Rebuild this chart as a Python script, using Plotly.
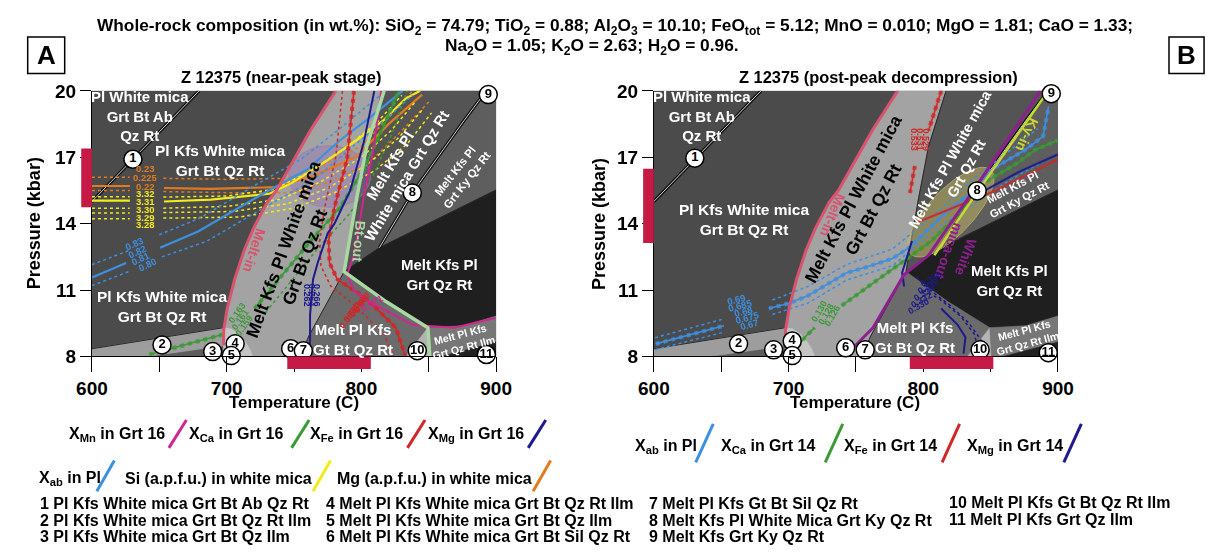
import numpy as np
import plotly.graph_objects as go

W, H = 1222, 559
AR = "Arial"

# ---------------- axes ----------------
X_RANGE = [600, 900]
Y_RANGE = [8, 20]
X_TICKS = [600, 650, 700, 750, 800, 850, 900]
X_TICKTEXT = ["600", "", "700", "", "800", "", "900"]
Y_TICKS = [8, 11, 14, 17, 20]
Y_TICKTEXT = ["8", "11", "14", "17", "20"]

# ---------------- pseudosection (T in C, P in kbar) ----------------
MELT_IN_T = [697.6, 697.8, 700.5, 706.0, 713.0, 720.0, 730.0, 737.0, 750.0, 762.0, 781.0]
MELT_IN_P = [8.5, 9.2, 10.2, 11.5, 12.8, 13.8, 14.95, 15.5, 16.9, 18.2, 20.0]
BT_OUT_T = [816.9, 803.9, 796.6, 790.8, 787.2, 818.3, 849.4, 850.8]
BT_OUT_P = [20.0, 17.48, 15.17, 13.22, 11.83, 10.48, 9.30, 8.0]
R1_T = [600.0, 679.5]
R1_P = [15.0, 20.0]
R89_T = [813.3, 837.8, 876.1, 890.6]
R89_P = [12.91, 15.39, 18.65, 19.83]

LIGHT_T = MELT_IN_T + [816.9, 803.9, 796.6, 790.8, 787.2, 760.5, 755.4, 697.6]
LIGHT_P = MELT_IN_P + [20.0, 17.48, 15.17, 13.22, 11.83, 8.87, 8.0, 8.0]
MKPW_T = [816.9, 892.0, 890.6, 876.1, 837.8, 813.3, 787.2, 790.8, 796.6, 803.9]
MKPW_P = [20.0, 20.0, 19.83, 18.65, 15.39, 12.91, 11.83, 13.22, 15.17, 17.48]
KY_T = [892.0, 900.0, 900.0, 813.3, 837.8, 876.1, 890.6]
KY_P = [20.0, 20.0, 15.52, 12.91, 15.39, 18.65, 19.83]
BLACK_T = [787.2, 813.3, 900.0, 900.0, 876.1, 849.4, 818.3]
BLACK_P = [11.83, 12.91, 15.52, 9.83, 9.39, 9.30, 10.48]
MPKG_T = [755.4, 760.5, 787.2, 818.3, 849.4, 832.8]
MPKG_P = [8.0, 8.87, 11.83, 10.48, 9.30, 8.0]
F10_T = [832.8, 849.4, 850.8]
F10_P = [8.0, 9.30, 8.0]
ILM_T = [850.8, 849.4, 876.1, 900.0, 900.0]
ILM_P = [8.0, 9.30, 9.39, 9.83, 8.0]
F11_T = [859.5, 900.0, 900.0]
F11_P = [8.0, 8.65, 8.0]
F2_T = [600.0, 600.0, 697.6, 697.6, 645.0]
F2_P = [8.0, 8.35, 9.30, 8.45, 8.0]
F3_T = [645.0, 697.6, 697.6]
F3_P = [8.0, 8.45, 8.0]
F4_T = [697.6, 703.0, 709.0, 714.0, 717.5, 719.3, 697.6]
F4_P = [9.30, 9.25, 9.0, 8.65, 8.3, 8.0, 8.0]

CIRC_LABELS = [str(i) for i in range(1, 12)]
CIRC_A_T = [630.4, 652.0, 689.6, 706.3, 703.4, 747.5, 756.9, 837.8, 894.2, 841.5, 892.8]
CIRC_A_P = [16.91, 8.52, 8.22, 8.57, 8.04, 8.35, 8.26, 15.39, 19.83, 8.26, 8.09]
CIRC_B_T = [630.4, 662.9, 688.9, 702.7, 702.7, 742.4, 756.9, 840.0, 895.0, 842.2, 892.8]
CIRC_B_P = [16.96, 8.57, 8.30, 8.70, 8.04, 8.39, 8.30, 15.48, 19.87, 8.30, 8.17]

# peak estimates (red bars)
PEAK_A_T = [745, 807]
PEAK_A_P = [14.74, 17.39]
PEAK_B_T = [790, 852]
PEAK_B_P = [13.13, 16.48]

# ---------------- isopleths panel A ----------------
ORG_A_T = [600, 628.2, None, 653.5, 688.2, 736.6, 765.5, 796.6, 820.5, 845.1]
ORG_A_P = [15.70, 15.70, None, 15.61, 15.57, 15.65, 16.17, 17.04, 18.52, 19.83]
ORG_A_D1_T = [600, 628, None, 653, 700, 745, 770, 800, 822, 838]
ORG_A_D1_P = [16.1, 16.1, None, 16.05, 16.0, 16.05, 16.6, 17.5, 18.9, 20.0]
ORG_A_D2_T = [600, 628, None, 653, 700, 745, 775, 805, 830, 850]
ORG_A_D2_P = [15.5, 15.5, None, 15.45, 15.4, 15.4, 15.85, 16.7, 18.2, 19.5]

YEL_A_T = [600, 628.2, None, 653.5, 688.2, 731.6, 748.2, 772.8, 796.6, 816.1, 832.8, 843.6]
YEL_A_P = [15.04, 15.04, None, 15.0, 15.09, 15.35, 15.83, 16.78, 17.78, 18.65, 19.65, 20.0]
YEL_A_D1_T = [600, 628, None, 653, 700, 735, 760, 790, 812, 830]
YEL_A_D1_P = [15.22, 15.22, None, 15.2, 15.25, 15.55, 16.3, 17.5, 18.6, 19.8]
YEL_A_D2_T = [600, 628, None, 653, 700, 740, 770, 800, 822, 840]
YEL_A_D2_P = [14.7, 14.7, None, 14.7, 14.78, 15.1, 15.9, 17.0, 18.2, 19.5]
YEL_A_D3_T = [600, 628, None, 653, 705, 745, 775, 805, 828, 846]
YEL_A_D3_P = [14.48, 14.48, None, 14.5, 14.55, 14.9, 15.6, 16.7, 17.9, 19.2]
YEL_A_D4_T = [600, 628, None, 653, 710, 750, 780, 810, 834, 852]
YEL_A_D4_P = [14.22, 14.22, None, 14.25, 14.3, 14.7, 15.4, 16.4, 17.6, 19.0]
YEL_A_LABELS = ["3.32", "3.31", "3.30", "3.29", "3.28"]
YEL_A_LAB_P = [15.35, 15.0, 14.65, 14.3, 13.96]
ORG_A_LABELS = ["0.23", "0.225", "0.22"]
ORG_A_LAB_P = [16.48, 16.09, 15.70]

BLU_A_T = [600, 625.3, None, 650.6, 678.8, 724.3, 760.5, 784.3, 806.0, 830.6]
BLU_A_P = [11.57, 12.22, None, 12.91, 13.65, 15.26, 16.48, 17.78, 18.78, 20.0]
BLU_A_D1_T = [600, 628, None, 650, 680, 720, 755, 780, 800, 818]
BLU_A_D1_P = [12.15, 12.8, None, 13.5, 14.25, 15.7, 16.9, 18.1, 19.1, 20.0]
BLU_A_D2_T = [600, 628, None, 652, 685, 730, 765, 790, 812, 838]
BLU_A_D2_P = [11.2, 11.85, None, 12.5, 13.2, 14.8, 16.0, 17.3, 18.4, 19.8]
BLU_A_LABELS = ["0.83", "0.82", "0.81", "0.80"]
BLU_A_LAB_T = [631.8, 634.0, 636.1, 641.2]
BLU_A_LAB_P = [13.09, 12.74, 12.43, 12.17]

GRN_A_T = [642.6, 697.6, None, 720.7, 760.5, 784.3, 801.7, 816.1, 827.7]
GRN_A_P = [8.09, 9.0, None, 10.17, 13.09, 14.74, 16.48, 18.35, 20.0]
GRN_A_D_T = [729, 768, 792, 809, 823, 834]
GRN_A_D_P = [10.0, 12.9, 14.5, 16.2, 18.1, 20.0]
GRN_A_LABELS = ["0.163", "0.161", "0.159"]
GRN_A_LAB_T = [707.7, 709.9, 713.5]
GRN_A_LAB_P = [9.96, 9.65, 9.40]

RED_A_T = [794.5, 789.4, 780.0, 775.7, 776.4, 782.2, 803.9, 825.5, 832.8]
RED_A_P = [20.0, 16.91, 14.74, 13.22, 12.22, 11.48, 10.61, 9.30, 8.0]
RED_A_D_T = [786, 781, 773, 769, 770, 777, 797, 817, 824]
RED_A_D_P = [20.0, 17.0, 14.8, 13.2, 12.1, 11.2, 10.2, 9.0, 8.0]
RED_A_LABELS = ["0.567", "0.566", "0.564", "0.562"]
RED_A_LAB_T = [801.0, 797.0, 793.5, 790.0]
RED_A_LAB_P = [10.45, 10.25, 10.0, 9.75]

NAV_A_T = [809.6, 801.7, 791.6, 780.0, 775.0, 767.7, 764.1, 761.9, 761.9, 760.5]
NAV_A_P = [20.0, 17.65, 15.48, 14.0, 13.57, 12.26, 11.48, 9.87, 8.74, 8.0]
NAV_A_LABELS = ["0.266", "0.264", "0.262"]
NAV_A_LAB_T = [767.5, 764.0, 760.0]
NAV_A_LAB_P = [10.75, 10.75, 10.75]

MAG_A_T = [814.7, 808.9, 801.7, 794.5, 789.4, 794.5, 806.0, 837.8, 868.9, 899.3]
MAG_A_P = [20.0, 17.35, 15.17, 12.57, 11.7, 10.96, 10.48, 9.43, 9.30, 9.74]

# ---------------- isopleths panel B ----------------
BLU_B_T = [601.4, 652.0, None, 685.3, 699.8, 714.2, 728.7, 743.1, 762.7, 777.1, 789.4, 815.4, 837.1, 851.6, 876.1, 889.0, 893.0]
BLU_B_P = [8.57, 9.39, None, 10.17, 10.39, 10.74, 11.26, 11.78, 12.13, 12.43, 12.91, 14.43, 15.48, 16.48, 17.35, 17.95, 19.3]
BLU_B_D1_T = [601, 652, None, 688, 714, 743, 777, 810, 835, 860, 885]
BLU_B_D1_P = [8.85, 9.7, None, 10.55, 11.15, 12.15, 12.85, 14.5, 15.9, 17.1, 18.3]
BLU_B_D2_T = [601, 652, None, 688, 714, 743, 777, 815, 840, 865, 895]
BLU_B_D2_P = [8.3, 9.1, None, 9.9, 10.4, 11.45, 12.1, 14.0, 15.0, 16.0, 17.0]
BLU_B_LABELS = ["0.69", "0.685", "0.68", "0.675", "0.67"]
BLU_B_LAB_T = [661.4, 664.3, 666.5, 669.4, 670.8]
BLU_B_LAB_P = [10.57, 10.30, 10.04, 9.78, 9.43]

GRN_B_T = [690.4, 704.8, 712.1, 719.3, None, 739.5, 769.9, 784.3, 806.0, 824.1, 844.3, 868.9, 883.4, 900.0]
GRN_B_P = [8.13, 8.30, 8.87, 9.30, None, 10.30, 11.61, 12.26, 13.22, 14.30, 15.83, 16.70, 17.35, 17.78]
GRN_B_LABELS = ["0.130", "0.128", "0.126"]
GRN_B_LAB_T = [722.9, 728.0, 732.3]
GRN_B_LAB_P = [10.04, 9.91, 9.83]

RED_B_T = [813.3, 806.0, 803.9, None, 793.7, 790.1]
RED_B_P = [20.0, 18.65, 18.22, None, 16.61, 15.39]
RED_B2_T = [796.6, 827.7, 849.4, 883.4, 900.0]
RED_B2_P = [14.09, 14.87, 15.39, 16.39, 16.91]
RED_B_LABELS = ["0.533", "0.531", "0.529"]
RED_B_LAB_T = [793.0, 797.3, 802.4]
RED_B_LAB_P = [17.78, 17.78, 17.78]

NAV_B_T = [791.6, 786.5, 784.3, 785.8, None, 813.3, 825.5, 831.3, 829.9, None, 842.2, 871.1, 900.0]
NAV_B_P = [13.22, 12.22, 11.78, 11.17, None, 10.17, 9.43, 8.87, 8.13, None, 15.39, 16.35, 17.13]
NAV_B_D1_T = [800, 812, 828, 838, 842]
NAV_B_D1_P = [11.0, 10.6, 9.8, 9.0, 8.0]
NAV_B_D2_T = [795, 805, 820, 834, 848]
NAV_B_D2_P = [11.6, 11.0, 10.3, 9.5, 8.3]
NAV_B_LABELS = ["0.338", "0.336", "0.334", "0.332", "0.330"]
NAV_B_LAB_T = [806.0, 803.9, 801.0, 798.8, 796.6]
NAV_B_LAB_P = [11.48, 11.17, 10.87, 10.57, 10.30]

WMOUT_B_T = [743.1, 762.7, 785.8, 803.9, 837.1, 887.0]
WMOUT_B_P = [8.09, 9.30, 11.70, 12.57, 15.48, 20.0]
KYIN_B_T = [808.2, 840.7, 892.8]
KYIN_B_P = [12.57, 15.48, 20.0]

# ---------------- colours ----------------
C_BG = "#4b4b4b"
C_LIGHT = "#a3a3a3"
C_MKPW = "#545454"
C_KY = "#5e5e5e"
C_BLACK = "#1f1f1f"
C_MPKG = "#6b6b6b"
C_F10 = "#b3b3b3"
C_ILM = "#777777"
C_F11 = "#222222"
C_F2 = "#9d9d9d"
C_F3 = "#5d5d5d"
C_F4 = "#c4c4c4"
PINK = "#d9536f"
BTOUT = "#a9d8a2"
ORANGE = "#e27a1f"
YELLOW = "#f4ea1a"
BLUE = "#3d8fe0"
GREEN = "#3a9a35"
RED = "#d22626"
NAVY = "#1e1a8c"
MAGENTA = "#d0268e"
PURPLE = "#8e1f8e"
KYC = "#c6d831"
BAR = "#c41a45"

fig = go.Figure()
annotations = []
shapes = []
AX = {1: ("x", "y"), 2: ("x2", "y2")}


def poly(T, P, color, p):
    fig.add_trace(go.Scatter(x=list(T) + [T[0]], y=list(P) + [P[0]], fill="toself",
                             fillcolor=color, mode="lines", line=dict(width=0.6, color=color),
                             hoverinfo="skip", xaxis=AX[p][0], yaxis=AX[p][1]))


def line(T, P, color, width, p, dash="solid", opacity=1.0):
    fig.add_trace(go.Scatter(x=T, y=P, mode="lines", line=dict(color=color, width=width, dash=dash),
                             opacity=opacity, connectgaps=False, hoverinfo="skip",
                             xaxis=AX[p][0], yaxis=AX[p][1]))


def hatched(T, P, color, p):
    line(T, P, color, 1.6, p)
    line(T, P, color, 4, p, dash="dot", opacity=0.85)


def label(text, T, P, p, size=15, color="white", angle=0):
    annotations.append(dict(text=text, x=T, y=P, xref=AX[p][0], yref=AX[p][1], showarrow=False,
                            textangle=angle, align="center", borderpad=0,
                            font=dict(family=AR, size=size, color=color, weight="bold")))


def ellipse(Tc, Pc, a_px, b_px, ang_deg, color, edge, p):
    t = np.linspace(0, 2 * np.pi, 80)
    phi = np.radians(ang_deg)
    dx = a_px * np.cos(t) * np.cos(phi) - b_px * np.sin(t) * np.sin(phi)
    dy = a_px * np.cos(t) * np.sin(phi) + b_px * np.sin(t) * np.cos(phi)
    kx = (X_RANGE[1] - X_RANGE[0]) / 415.0
    ky = (Y_RANGE[1] - Y_RANGE[0]) / 276.0
    fig.add_trace(go.Scatter(x=Tc + dx * kx, y=Pc + dy * ky, fill="toself", fillcolor=color,
                             mode="lines", line=dict(color=edge, width=1), hoverinfo="skip",
                             xaxis=AX[p][0], yaxis=AX[p][1]))


for p in (1, 2):
    poly(LIGHT_T, LIGHT_P, C_LIGHT, p)
    poly(MKPW_T, MKPW_P, C_MKPW, p)
    poly(KY_T, KY_P, C_KY, p)
    poly(BLACK_T, BLACK_P, C_BLACK, p)
    poly(MPKG_T, MPKG_P, C_MPKG, p)
    poly(F10_T, F10_P, C_F10, p)
    poly(ILM_T, ILM_P, C_ILM, p)
    poly(F11_T, F11_P, C_F11, p)
    poly(F2_T, F2_P, C_F2, p)
    poly(F3_T, F3_P, C_F3, p)
    poly(F4_T, F4_P, C_F4, p)
    line([F2_T[1], F2_T[2]], [F2_P[1], F2_P[2]], "#2a2a2a", 1, p)
    line(MPKG_T[:3], MPKG_P[:3], "#2a2a2a", 1, p)
    line(BLACK_T[:3], BLACK_P[:3], "#2a2a2a", 1, p)
    for T, P in ((R1_T, R1_P), (R89_T, R89_P)):
        line(T, P, "#111111", 3.2, p)
        line(T, P, "#d0d0d0", 1.0, p)

# -------- panel A overlays
line(BT_OUT_T[:5], BT_OUT_P[:5], "#2a2a2a", 1, 2)
ellipse(776.4, 16.13, 42, 32, 0, "rgba(140,105,190,0.35)", "rgba(170,110,170,0.6)", 1)
line(ORG_A_D1_T, ORG_A_D1_P, ORANGE, 1.5, 1, "dot")
line(ORG_A_D2_T, ORG_A_D2_P, ORANGE, 1.5, 1, "dot")
line(ORG_A_T, ORG_A_P, ORANGE, 2.2, 1)
for T, P in ((YEL_A_D1_T, YEL_A_D1_P), (YEL_A_D2_T, YEL_A_D2_P), (YEL_A_D3_T, YEL_A_D3_P), (YEL_A_D4_T, YEL_A_D4_P)):
    line(T, P, YELLOW, 1.5, 1, "dot")
line(YEL_A_T, YEL_A_P, YELLOW, 2.2, 1)
line(BLU_A_D1_T, BLU_A_D1_P, BLUE, 1.5, 1, "dot")
line(BLU_A_D2_T, BLU_A_D2_P, BLUE, 1.5, 1, "dot")
line(BLU_A_T, BLU_A_P, BLUE, 2.2, 1)
line(GRN_A_D_T, GRN_A_D_P, GREEN, 1.5, 1, "dot")
hatched(GRN_A_T, GRN_A_P, GREEN, 1)
line(RED_A_D_T, RED_A_D_P, RED, 1.5, 1, "dot")
hatched(RED_A_T, RED_A_P, RED, 1)
line(NAV_A_T, NAV_A_P, NAVY, 2, 1)
line(MAG_A_T, MAG_A_P, MAGENTA, 2, 1)
line(BT_OUT_T, BT_OUT_P, BTOUT, 3.5, 1)
line(MELT_IN_T, MELT_IN_P, PINK, 3, 1)

# -------- panel B overlays
ellipse(820.5, 14.52, 60, 23, 47, "rgba(200,185,100,0.5)", "rgba(200,185,100,0.7)", 2)
line(BLU_B_D1_T, BLU_B_D1_P, BLUE, 1.5, 2, "dot")
line(BLU_B_D2_T, BLU_B_D2_P, BLUE, 1.5, 2, "dot")
hatched(BLU_B_T, BLU_B_P, BLUE, 2)
hatched(GRN_B_T, GRN_B_P, GREEN, 2)
hatched(RED_B_T, RED_B_P, RED, 2)
line(RED_B2_T, RED_B2_P, RED, 2, 2)
line(NAV_B_D1_T, NAV_B_D1_P, NAVY, 1.5, 2, "dot")
line(NAV_B_D2_T, NAV_B_D2_P, NAVY, 1.5, 2, "dot")
line(NAV_B_T, NAV_B_P, NAVY, 2, 2)
line(WMOUT_B_T, WMOUT_B_P, PURPLE, 3, 2)
line(KYIN_B_T, KYIN_B_P, KYC, 2.5, 2)
line(MELT_IN_T, MELT_IN_P, PINK, 3, 2)

# numbered circles
for p, (T, P) in ((1, (CIRC_A_T, CIRC_A_P)), (2, (CIRC_B_T, CIRC_B_P))):
    fig.add_trace(go.Scatter(x=T, y=P, mode="markers+text", text=CIRC_LABELS,
                             textposition="middle center", cliponaxis=False,
                             marker=dict(size=18, color="white", line=dict(color="black", width=1.5)),
                             textfont=dict(family=AR, size=13, color="black", weight="bold"),
                             hoverinfo="skip", xaxis=AX[p][0], yaxis=AX[p][1]))

# ---------------- field labels ----------------
label("Pl White mica<br>Grt Bt Ab<br>Qz Rt", 635.4, 18.87, 1, 15)
label("Pl Kfs White mica<br>Grt Bt Qz Rt", 695.4, 16.87, 1, 15.5)
label("Pl Kfs White mica<br>Grt Bt Qz Rt", 652.0, 10.26, 1, 15.5)
label("Melt Kfs Pl White mica<br>Grt Bt Qz Rt", 750.0, 12.65, 1, 17.5, "black", -70)
label("Melt Kfs Pl<br>White mica Grt Qz Rt", 827.7, 16.39, 1, 15, "white", -59)
label("Melt Kfs Pl<br>Grt Ky Qz Rt", 874.0, 16.17, 1, 11.5, "white", -52)
label("Melt Kfs Pl<br>Grt Qz Rt", 858.1, 11.7, 1, 15)
label("Melt Pl Kfs<br>Gt Bt Qz Rt", 793.7, 8.78, 1, 15)
label("Melt Pl Kfs<br>Grt Qz Rt Ilm", 874.7, 8.7, 1, 10.5, "white", -15)
label("Melt-in", 720.7, 12.78, 1, 14, PINK, 108)
label("Bt-out", 798.0, 13.2, 1, 14, BTOUT, 95)

label("Pl White mica<br>Grt Bt Ab<br>Qz Rt", 636.1, 18.87, 2, 15)
label("Pl Kfs White mica<br>Grt Bt Qz Rt", 667.2, 14.17, 2, 15.5)
label("Melt Kfs Pl White mica<br>Grt Bt Qz Rt", 755.4, 14.87, 2, 17.5, "black", -62)
label("Melt Kfs Pl White mica<br>Grt Qz Rt", 826.3, 16.7, 2, 14.5, "white", -61)
label("Melt Kfs Pl<br>Grt Ky Qz Rt", 868.9, 15.39, 2, 11, "white", -28)
label("Melt Kfs Pl<br>Grt Qz Rt", 863.9, 11.43, 2, 15)
label("Melt Pl Kfs<br>Gt Bt Qz Rt", 793.7, 8.87, 2, 15)
label("Melt Pl Kfs<br>Grt Qz Rt Ilm", 876.1, 8.87, 2, 10.5, "white", -15)
label("Melt-in", 733.0, 14.4, 2, 14, PINK, 112)
label("White<br>mica-out", 825.5, 12.6, 2, 14, PURPLE, 110)
label("Ky-in", 876.9, 18.0, 2, 14, KYC, 115)

# isopleth value labels (small, tightly stacked as in the original)
for s, pp in zip(ORG_A_LABELS, ORG_A_LAB_P):
    label(s, 639.5, pp, 1, 9.5, ORANGE)
for s, pp in zip(YEL_A_LABELS, YEL_A_LAB_P):
    label(s, 639.8, pp, 1, 9.5, YELLOW)
for s, t, pp in zip(BLU_A_LABELS, BLU_A_LAB_T, BLU_A_LAB_P):
    label(s, t, pp, 1, 9.5, BLUE, -25)
for s, t, pp in zip(GRN_A_LABELS, GRN_A_LAB_T, GRN_A_LAB_P):
    label(s, t, pp, 1, 9, GREEN, -55)
for s, t, pp in zip(NAV_A_LABELS, NAV_A_LAB_T, NAV_A_LAB_P):
    label(s, t, pp, 1, 9, NAVY, 90)
for s, t, pp in zip(RED_A_LABELS, RED_A_LAB_T, RED_A_LAB_P):
    label(s, t, pp, 1, 9, RED, -55)
label("0.071", 807.6, 10.39, 1, 9.5, MAGENTA, -30)
for s, t, pp in zip(BLU_B_LABELS, BLU_B_LAB_T, BLU_B_LAB_P):
    label(s, t, pp, 2, 9.5, BLUE, -15)
for s, t, pp in zip(GRN_B_LABELS, GRN_B_LAB_T, GRN_B_LAB_P):
    label(s, t, pp, 2, 9, GREEN, -60)
for s, t, pp in zip(RED_B_LABELS, RED_B_LAB_T, RED_B_LAB_P):
    label(s, t, pp, 2, 9, RED, 90)
for s, t, pp in zip(NAV_B_LABELS, NAV_B_LAB_T, NAV_B_LAB_P):
    label(s, t, pp, 2, 9, NAVY, -30)

# ---------------- red bars (peak estimates) ----------------
for p, TT, PP in ((1, PEAK_A_T, PEAK_A_P), (2, PEAK_B_T, PEAK_B_P)):
    xa, ya = AX[p]
    shapes.append(dict(type="rect", xref=xa + " domain", yref=ya, x0=-11 / 415, x1=0,
                       y0=PP[0], y1=PP[1], fillcolor=BAR, line=dict(width=0), layer="above"))
    shapes.append(dict(type="rect", xref=xa, yref=ya + " domain", x0=TT[0], x1=TT[1],
                       y0=-13 / 276, y1=0, fillcolor=BAR, line=dict(width=0), layer="above"))


# ---------------- page texts ----------------
def px(x):
    return x / W


def py(y):
    return 1 - y / H


def ptext(text, x, y, size, xanchor="center", angle=0, color="black"):
    annotations.append(dict(text=text, x=px(x), y=py(y), xref="paper", yref="paper",
                            xanchor=xanchor, yanchor="middle", showarrow=False, textangle=angle,
                            font=dict(family=AR, size=size, color=color, weight="bold")))


ptext("Whole-rock composition (in wt.%): SiO<sub>2</sub> = 74.79; TiO<sub>2</sub> = 0.88; "
      "Al<sub>2</sub>O<sub>3</sub> = 10.10; FeO<sub>tot</sub> = 5.12; MnO = 0.010; MgO = 1.81; CaO = 1.33;",
      615, 17, 17.3)
ptext("Na<sub>2</sub>O = 1.05; K<sub>2</sub>O = 2.63; H<sub>2</sub>O = 0.96.", 592, 38, 17.3)
ptext("Z 12375 (near-peak stage)", 272, 70, 16.4)
ptext("Z 12375 (post-peak decompression)", 886, 70, 16.4)
ptext("A", 31, 47, 26)
ptext("B", 1202, 47, 26)
shapes.append(dict(type="rect", xref="paper", yref="paper", x0=px(12), x1=px(50), y0=py(66), y1=py(28),
                   line=dict(color="black", width=1.5)))
shapes.append(dict(type="rect", xref="paper", yref="paper", x0=px(1184), x1=px(1220), y0=py(66), y1=py(28),
                   line=dict(color="black", width=1.5)))
ptext("Pressure (kbar)", 18, 222, 18, angle=-90)
ptext("Pressure (kbar)", 598, 222, 18, angle=-90)
ptext("Temperature (C)", 285, 408, 17)
ptext("Temperature (C)", 862, 408, 17)

# legends
LEG_A1 = [("X<sub>Mn</sub> in Grt 16", 52, MAGENTA, 157), ("X<sub>Ca</sub> in Grt 16", 176, GREEN, 283),
          ("X<sub>Fe</sub> in Grt 16", 300, RED, 402), ("X<sub>Mg</sub> in Grt 16", 421, NAVY, 526)]
LEG_A2 = [("X<sub>ab</sub> in Pl", 22, BLUE, 83), ("Si (a.p.f.u.) in white mica", 110, YELLOW, 305),
          ("Mg (a.p.f.u.) in white mica", 328, ORANGE, 531)]
LEG_B = [("X<sub>ab</sub> in Pl", 634, BLUE, 698), ("X<sub>Ca</sub> in Grt 14", 722, GREEN, 831),
         ("X<sub>Fe</sub> in Grt 14", 848, RED, 951), ("X<sub>Mg</sub> in Grt 14", 975, NAVY, 1076)]
for items, yc, y0, y1 in ((LEG_A1, 441, 455, 426), (LEG_A2, 487, 500, 468), (LEG_B, 454, 470, 430)):
    for text, x, col, sx in items:
        ptext(text, x, yc, 16, xanchor="left")
        shapes.append(dict(type="line", xref="paper", yref="paper", x0=px(sx), x1=px(sx + 18),
                           y0=py(y0), y1=py(y1), line=dict(color=col, width=3)))

NUM_COL1 = ["1 Pl Kfs White mica Grt Bt Ab Qz Rt", "2 Pl Kfs White mica Grt Bt Qz Rt Ilm",
            "3 Pl Kfs White mica Grt Bt Qz Ilm"]
NUM_COL2 = ["4 Melt Pl Kfs White mica Grt Bt Qz Rt Ilm", "5 Melt Pl Kfs White mica Grt Bt Qz Ilm",
            "6 Melt Pl Kfs White mica Grt Bt Sil Qz Rt"]
NUM_COL3 = ["7 Melt Pl Kfs Gt Bt Sil Qz Rt", "8 Melt Kfs Pl White Mica Grt Ky Qz Rt",
            "9 Melt Kfs Grt Ky Qz Rt"]
NUM_COL4 = ["10 Melt Pl Kfs Gt Bt Qz Rt Ilm", "11 Melt Pl Kfs Grt Qz Ilm"]
for col, x, ys in ((NUM_COL1, 23, (513, 530, 547)), (NUM_COL2, 316, (513, 530, 547)),
                   (NUM_COL3, 648, (513, 530, 547)), (NUM_COL4, 956, (512, 529))):
    for t, y in zip(col, ys):
        ptext(t, x, y, 16, xanchor="left")

# ---------------- axes ----------------
xdom1 = [78 / W, 493 / W]
xdom2 = [655 / W, 1070 / W]
ydom = [1 - 360 / H, 1 - 84 / H]
tickfont = dict(family=AR, size=19, color="black", weight="bold")
xax = dict(range=X_RANGE, tickvals=X_TICKS, ticktext=X_TICKTEXT, ticks="outside", ticklen=15,
           tickcolor="black", showline=True, linecolor="black", linewidth=1, showgrid=False,
           zeroline=False, tickfont=tickfont, fixedrange=True)
yax = dict(range=Y_RANGE, tickvals=Y_TICKS, ticktext=Y_TICKTEXT, ticks="outside", ticklen=11,
           tickcolor="black", showline=True, linecolor="black", linewidth=1, showgrid=False,
           zeroline=False, tickfont=tickfont, fixedrange=True)

fig.update_layout(
    width=W, height=H, margin=dict(l=0, r=0, t=0, b=0),
    paper_bgcolor="white", plot_bgcolor=C_BG, showlegend=False,
    xaxis=dict(xax, domain=xdom1, anchor="y"),
    yaxis=dict(yax, domain=ydom, anchor="x"),
    xaxis2=dict(xax, domain=xdom2, anchor="y2"),
    yaxis2=dict(yax, domain=ydom, anchor="x2"),
    annotations=annotations, shapes=shapes,
)
fig.write_html("out.html")
